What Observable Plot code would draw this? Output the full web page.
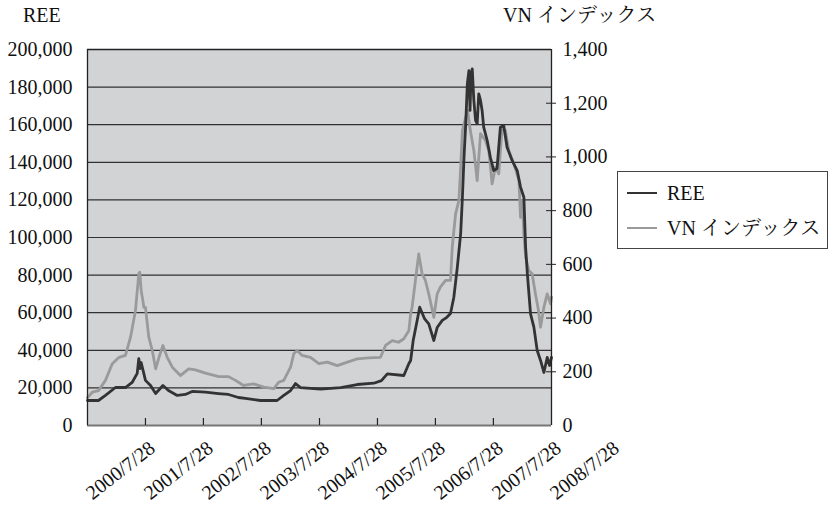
<!DOCTYPE html>
<html>
<head>
<meta charset="utf-8">
<script src="https://cdn.jsdelivr.net/npm/d3@7"></script>
<script src="https://cdn.jsdelivr.net/npm/@observablehq/plot@0.6"></script>
<style>
  html body #wrap, html body #wrap * { font-family: "Liberation Serif", "Noto Serif CJK JP", serif !important; }
</style>
</head>
<body style="margin:0;padding:0;background:#fff;">
<div id="wrap" style="position:relative;width:830px;height:516px;color:#111;">
  <div id="chart"></div>
  <div class="t" style="position:absolute;left:23px;top:4px;font-size:20px;line-height:22px;white-space:nowrap;">REE</div>
  <div class="t" style="position:absolute;left:503px;top:4px;font-size:20px;line-height:22px;white-space:nowrap;">VN インデックス</div>
  <div style="position:absolute;left:617px;top:171px;width:209px;height:76px;border:1px solid #444;background:#fff;">
    <div class="t" style="position:absolute;left:9px;top:10px;font-size:20px;line-height:22px;white-space:nowrap;"><span style="display:inline-block;width:30px;height:0;border-top:2px solid #333;vertical-align:middle;margin-right:10px;position:relative;top:-2px;"></span>REE</div>
    <div class="t" style="position:absolute;left:9px;top:45px;font-size:20px;line-height:22px;white-space:nowrap;"><span style="display:inline-block;width:30px;height:0;border-top:2px solid #9a9a9a;vertical-align:middle;margin-right:10px;position:relative;top:-2px;"></span>VN インデックス</div>
  </div>
</div>
<script>
// ---- data ----
const seriesNames = ["REE", "VN インデックス"];

const reeDates = ["2000-07-28","2000-10-05","2000-11-18","2001-01-20","2001-03-24","2001-05-05","2001-06-06","2001-06-16","2001-06-24","2001-07-01","2001-07-28","2001-08-29","2001-09-30","2001-11-15","2001-12-20","2002-02-13","2002-04-05","2002-05-18","2002-08-10","2002-10-31","2003-01-02","2003-03-05","2003-04-18","2003-07-22","2003-11-04","2003-12-16","2004-01-28","2004-02-28","2004-03-30","2004-08-04","2004-12-08","2005-03-22","2005-07-05","2005-08-22","2005-09-28","2006-01-10","2006-02-11","2006-02-22","2006-03-10","2006-04-04","2006-04-20","2006-05-20","2006-06-16","2006-07-18","2006-08-08","2006-09-09","2006-10-06","2006-10-31","2006-11-21","2006-12-13","2007-01-03","2007-01-14","2007-01-24","2007-02-04","2007-02-14","2007-02-24","2007-03-03","2007-03-09","2007-03-17","2007-03-27","2007-04-07","2007-04-17","2007-04-27","2007-05-08","2007-05-18","2007-05-28","2007-06-19","2007-07-09","2007-07-30","2007-08-20","2007-09-10","2007-10-01","2007-10-22","2007-11-23","2007-12-25","2008-01-15","2008-02-05","2008-02-16","2008-02-27","2008-03-18","2008-04-08","2008-04-29","2008-05-20","2008-06-10","2008-07-01","2008-07-16","2008-07-28"];
const reeValues = [13300,13300,16000,20200,20200,22900,27700,35600,30300,33500,24000,21300,17000,21300,18600,16000,16500,18100,17800,17000,16500,14900,14400,13300,13300,16000,18600,22300,20200,19400,20200,21800,22500,23900,27500,26600,33000,34600,45200,55900,62900,56900,54100,45200,52100,55900,57400,59600,68200,84200,102100,121400,142700,160600,181800,188800,167600,186200,189700,172900,162200,160600,176400,172900,167600,158700,151600,142700,135600,136700,158700,159600,148000,141000,135600,126800,121400,94800,80700,59400,52300,39900,34600,28200,36200,31900,36200];

const vnDates = ["2000-07-28","2000-08-27","2000-10-05","2000-11-18","2000-12-31","2001-02-12","2001-03-24","2001-04-25","2001-05-26","2001-06-16","2001-06-22","2001-07-01","2001-07-08","2001-07-18","2001-07-28","2001-08-18","2001-09-09","2001-09-30","2001-10-21","2001-11-15","2001-12-12","2002-01-13","2002-03-05","2002-04-26","2002-06-08","2002-08-10","2002-11-02","2003-01-02","2003-02-15","2003-04-07","2003-06-09","2003-08-12","2003-10-14","2003-11-14","2003-12-16","2004-01-28","2004-02-17","2004-03-09","2004-04-10","2004-06-01","2004-07-24","2004-09-15","2004-11-17","2005-01-20","2005-03-22","2005-06-01","2005-08-16","2005-09-17","2005-10-29","2005-12-08","2006-01-10","2006-02-11","2006-02-22","2006-03-03","2006-03-24","2006-04-14","2006-05-05","2006-05-26","2006-06-16","2006-07-18","2006-08-08","2006-08-28","2006-09-30","2006-10-31","2006-11-11","2006-12-02","2006-12-23","2007-01-03","2007-01-14","2007-02-04","2007-02-16","2007-03-05","2007-03-27","2007-04-17","2007-05-08","2007-06-08","2007-06-29","2007-07-20","2007-08-10","2007-08-31","2007-09-21","2007-10-12","2007-11-02","2007-12-04","2008-01-05","2008-01-15","2008-01-26","2008-02-05","2008-02-16","2008-03-07","2008-03-28","2008-04-18","2008-05-07","2008-05-20","2008-06-10","2008-07-01","2008-07-22","2008-07-28"];
const vnValues = [104,124,130,168,230,254,261,329,428,565,571,503,478,440,440,329,279,211,253,298,254,217,186,211,207,195,182,182,168,149,155,143,137,161,168,217,267,279,261,254,230,236,223,236,248,252,254,298,316,310,323,354,417,440,540,639,565,540,490,403,490,515,540,540,664,788,838,962,1098,1148,1173,1098,1024,912,1087,1061,1024,900,962,937,1110,1098,1024,974,912,775,838,714,627,577,565,490,428,366,440,490,453,478];

// axes
const leftTicks = [0,20000,40000,60000,80000,100000,120000,140000,160000,180000,200000];
const rightTicks = [0,200,400,600,800,1000,1200,1400];
const rightTickMarks = [200,400,600,800,1000,1200];
const xTickDates = ["2001-07-28","2002-07-28","2003-07-28","2004-07-28","2005-07-28","2006-07-28","2007-07-28","2008-07-28","2009-07-28"];
const xTickLabels = ["2000/7/28","2001/7/28","2002/7/28","2003/7/28","2004/7/28","2005/7/28","2006/7/28","2007/7/28","2008/7/28"];

// ---- build tables ----
const parse = d3.utcParse("%Y-%m-%d");
const leftMax = 200000, rightMax = 1400, ratio = leftMax / rightMax;
const ree = reeDates.map((d, i) => ({date: parse(d), value: reeValues[i]}));
const vn = vnDates.map((d, i) => ({date: parse(d), value: vnValues[i] * ratio}));
const ticksX = xTickDates.map(parse);
const fmt = d3.format(",");
const FONT = "Liberation Serif, Noto Serif CJK JP, serif";

const chart = Plot.plot({
  width: 830,
  height: 516,
  marginLeft: 87,
  marginRight: 279,
  marginTop: 49,
  marginBottom: 91,
  style: {fontFamily: FONT, fontSize: "20px", color: "#111", background: "transparent", overflow: "visible"},
  x: {type: "utc", domain: [parse("2000-07-28"), parse("2008-07-28")], axis: null},
  y: {domain: [0, leftMax], axis: null},
  marks: [
    Plot.frame({fill: "#d2d3d5"}),
    Plot.ruleY(leftTicks.slice(1, -1), {stroke: "#303030", strokeWidth: 1.2}),
    Plot.line(vn, {x: "date", y: "value", stroke: "#9a9a9a", strokeWidth: 2.8, curve: "linear"}),
    Plot.line(ree, {x: "date", y: "value", stroke: "#333", strokeWidth: 2.8, curve: "linear"}),
    Plot.ruleY([0], {stroke: "#777", strokeWidth: 2}),
    Plot.ruleX([parse("2000-07-28"), parse("2008-07-28")], {stroke: "#222", strokeWidth: 1.3}),
    Plot.ruleY([leftMax], {stroke: "#222", strokeWidth: 1.3}),
    Plot.tickX(ticksX.slice(0, 7), {x: d => d, stroke: "#222", strokeWidth: 1.2, insetTop: 369}),
    Plot.tickY(rightTickMarks.map(v => v * ratio), {y: d => d, stroke: "#222", strokeWidth: 1, insetLeft: 459, insetRight: -5}),
    Plot.axisY(leftTicks, {anchor: "left", tickSize: 0, tickPadding: 15, tickFormat: fmt, fontSize: 20, fontFamily: FONT, label: null}),
    Plot.axisY(rightTicks.map(v => v * ratio), {anchor: "right", tickSize: 0, tickPadding: 11, tickFormat: d => fmt(Math.round(d / ratio)), fontSize: 20, fontFamily: FONT, label: null}),
    Plot.text(ticksX, {x: d => d, frameAnchor: "bottom", text: (d, i) => xTickLabels[i], rotate: -38, textAnchor: "end", dx: 11, dy: 25, fontSize: 20, fontFamily: FONT})
  ]
});
document.getElementById("chart").appendChild(chart);
const CSSFONT = "'Liberation Serif', 'Noto Serif CJK JP', serif";
chart.style.setProperty("font-family", CSSFONT, "important");
chart.querySelectorAll("text, g").forEach(el => el.style.setProperty("font-family", CSSFONT, "important"));
document.querySelectorAll(".t").forEach(el => el.style.setProperty("font-family", CSSFONT, "important"));
</script>
</body>
</html>
